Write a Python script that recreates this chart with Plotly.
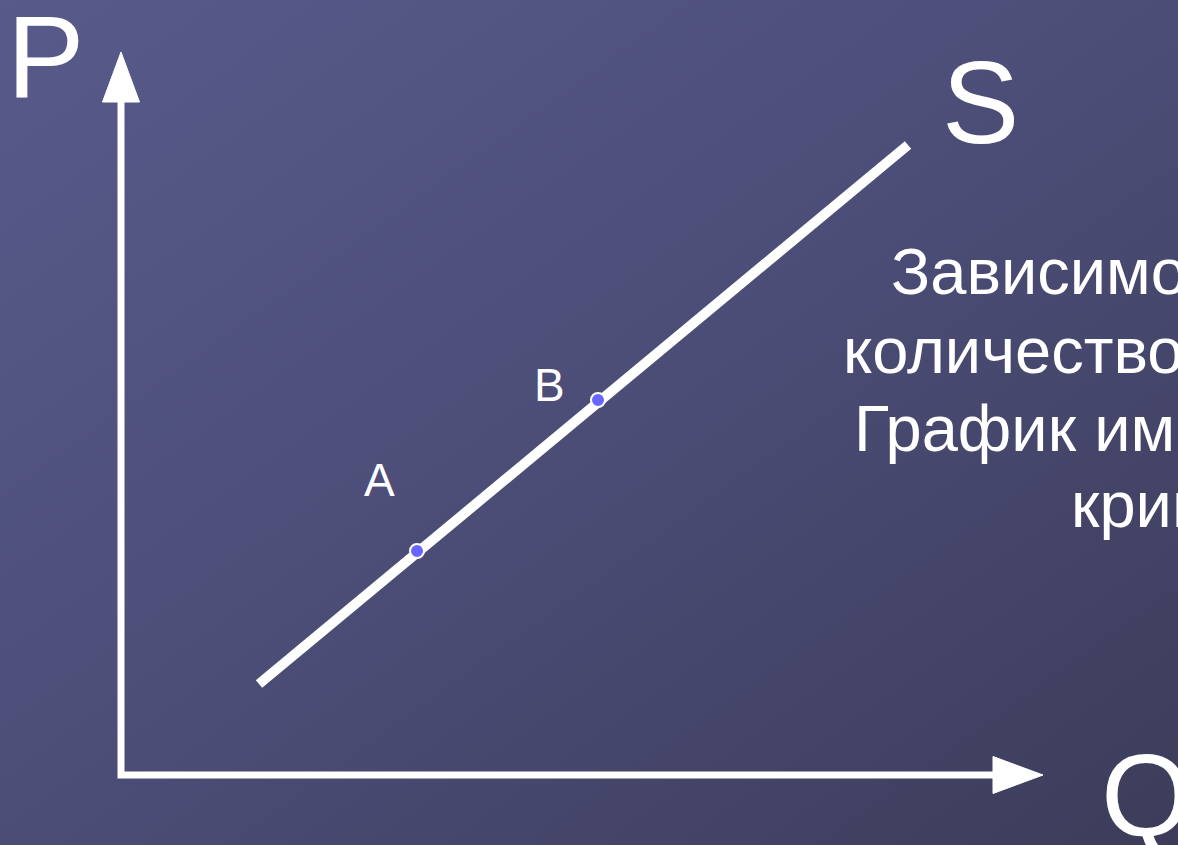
import base64
import plotly.graph_objects as go

# ---- data (1 unit = 100 px, origin at the axes corner) ----
supply_q = [1.38, 7.87]
supply_p = [0.91, 6.30]
point_q = [2.96, 4.77]
point_p = [2.24, 3.75]
point_labels = ["A", "B"]
axis_labels = ["P", "Q", "S"]
text_lines = [
    "Зависимость между ценой и",
    "количеством предлагаемого товара.",
    "График имеет вид восходящей",
    "кривой.",
]

W, H = 1178, 845
OX, OY, SCALE = 121, 775, 100.0
x_range = [-OX / SCALE, (W - OX) / SCALE]
y_range = [-(H - OY) / SCALE, OY / SCALE]


def dx(px):
    return (px - OX) / SCALE


def dy(py):
    return (OY - py) / SCALE


FONT = "Liberation Sans, Arial, sans-serif"
WHITE = "#ffffff"

# background: diagonal gradient as an inline SVG
svg = f"""<svg xmlns='http://www.w3.org/2000/svg' width='{W}' height='{H}' viewBox='0 0 {W} {H}'>
<defs><linearGradient id='g' x1='0' y1='0' x2='1' y2='1'>
<stop offset='0' stop-color='#585a8a'/><stop offset='0.5' stop-color='#4c4d77'/>
<stop offset='1' stop-color='#3c3c5a'/></linearGradient></defs>
<rect width='{W}' height='{H}' fill='url(#g)'/></svg>"""
bg_uri = "data:image/svg+xml;base64," + base64.b64encode(svg.encode()).decode()

fig = go.Figure()

# axes (L shape) with arrowheads
v_top, h_end = dy(100), dx(995)
fig.add_trace(go.Scatter(x=[0, 0, h_end], y=[v_top, 0, 0], mode="lines",
                         line=dict(color=WHITE, width=7), hoverinfo="skip", showlegend=False))
tip_v, tip_h, head_len, head_w = dy(52), dx(1043), 0.50, 0.185
fig.add_trace(go.Scatter(x=[-head_w, 0, head_w, -head_w], y=[tip_v - head_len, tip_v, tip_v - head_len, tip_v - head_len],
                         mode="lines", fill="toself", fillcolor=WHITE, line=dict(color=WHITE, width=1),
                         hoverinfo="skip", showlegend=False))
fig.add_trace(go.Scatter(x=[tip_h - head_len, tip_h, tip_h - head_len, tip_h - head_len], y=[-head_w, 0, head_w, -head_w],
                         mode="lines", fill="toself", fillcolor=WHITE, line=dict(color=WHITE, width=1),
                         hoverinfo="skip", showlegend=False))

# supply curve
fig.add_trace(go.Scatter(x=supply_q, y=supply_p, mode="lines",
                         line=dict(color=WHITE, width=10), hoverinfo="skip", showlegend=False))
# points A, B
fig.add_trace(go.Scatter(x=point_q, y=point_p, mode="markers",
                         marker=dict(size=14, color="#6767ff", line=dict(color=WHITE, width=2)),
                         hoverinfo="skip", showlegend=False))

annotations = []
shifts = [(-38, 71), (-49, 15)]
for q, p, lab, (sx, sy) in zip(point_q, point_p, point_labels, shifts):
    annotations.append(dict(x=q, y=p, text=lab, showarrow=False, xshift=sx, yshift=sy,
                            font=dict(family=FONT, size=46, color=WHITE)))

big_pos = {"P": (45, 57), "Q": (1146, 796), "S": (980, 103)}
for lab in axis_labels:
    px, py = big_pos[lab]
    annotations.append(dict(x=dx(px), y=dy(py), text=lab, showarrow=False,
                            xanchor="center", yanchor="middle",
                            font=dict(family=FONT, size=116, color=WHITE)))

line_starts = [889, 841, 852, 1069]
line_mids = [271, 350, 428, 504]
for t, sx0, my in zip(text_lines, line_starts, line_mids):
    annotations.append(dict(x=dx(sx0), y=dy(my), text=t, showarrow=False,
                            xanchor="left", yanchor="middle",
                            font=dict(family=FONT, size=65, color=WHITE)))

fig.update_layout(
    width=W, height=H, autosize=False,
    margin=dict(l=0, r=0, t=0, b=0),
    paper_bgcolor="#4c4d77", plot_bgcolor="rgba(0,0,0,0)",
    xaxis=dict(range=x_range, visible=False, fixedrange=True),
    yaxis=dict(range=y_range, visible=False, fixedrange=True),
    images=[dict(source=bg_uri, xref="paper", yref="paper", x=0, y=1, sizex=1, sizey=1,
                 sizing="stretch", xanchor="left", yanchor="top", layer="below")],
    annotations=annotations,
)

fig.write_html("out.html", include_plotlyjs=True, config={"displayModeBar": False},
               post_script="document.body.style.margin='0';document.body.style.overflow='hidden';"
                           "document.body.style.background='#4c4d77';")
